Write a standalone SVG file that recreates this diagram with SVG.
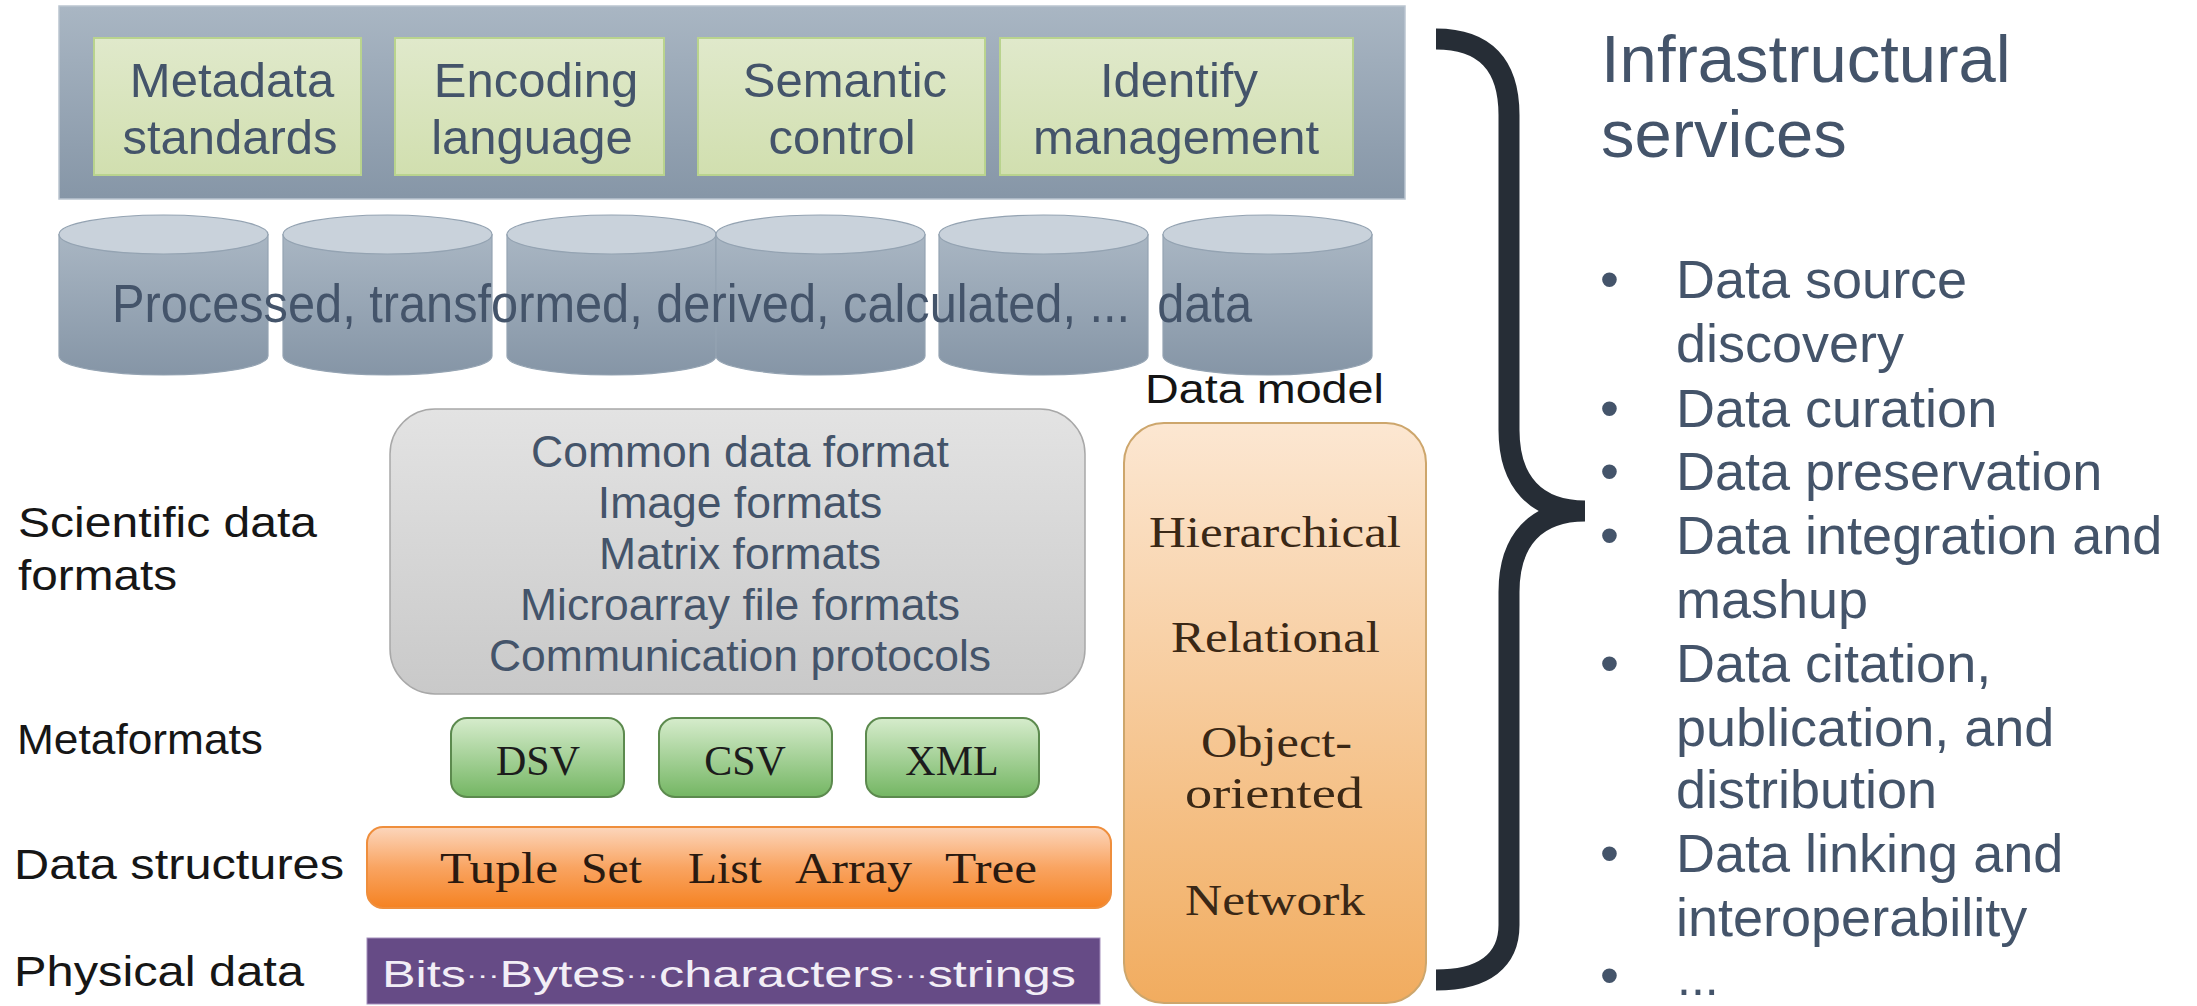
<svg xmlns="http://www.w3.org/2000/svg" width="2197" height="1006" viewBox="0 0 2197 1006">
  <style>
    .sans { font-family: 'Liberation Sans', Arial, sans-serif; }
    .serif { font-family: 'Liberation Serif', 'Times New Roman', serif; }
    .slate { fill: #44546A; }
    .lbl { fill: #161616; font-size: 42px; }
    .meta-txt { font-size: 49px; text-anchor: middle; }
    .fmt-txt { font-size: 44.5px; text-anchor: middle; }
    .svc { font-size: 54px; }
    .model-txt { fill: #3A2816; font-size: 44px; }
    .mf-txt { fill: #1C1C1C; font-size: 42px; text-anchor: middle; }
    .ds-txt { fill: #2A1A10; font-size: 44px; }
    .dots { font-size: 24px; }
  </style>
  <defs>
    <linearGradient id="bannerFill" x1="0" y1="6" x2="0" y2="199" gradientUnits="userSpaceOnUse">
      <stop offset="0" stop-color="#A9B6C3"/>
      <stop offset="1" stop-color="#8696A7"/>
    </linearGradient>
    <linearGradient id="metaFill" x1="0" y1="0" x2="0" y2="1">
      <stop offset="0" stop-color="#E0E9CB"/>
      <stop offset="1" stop-color="#D1DFAF"/>
    </linearGradient>
    <linearGradient id="cylBody" x1="0" y1="234" x2="0" y2="376" gradientUnits="userSpaceOnUse">
      <stop offset="0" stop-color="#A9B6C3"/>
      <stop offset="1" stop-color="#8595A6"/>
    </linearGradient>
    <linearGradient id="grayFill" x1="0" y1="0" x2="0" y2="1">
      <stop offset="0" stop-color="#E3E3E3"/>
      <stop offset="1" stop-color="#C9C9C9"/>
    </linearGradient>
    <linearGradient id="greenFill" x1="0" y1="0" x2="0" y2="1">
      <stop offset="0" stop-color="#D6ECCC"/>
      <stop offset="1" stop-color="#74B663"/>
    </linearGradient>
    <linearGradient id="orangeFill" x1="0" y1="0" x2="0" y2="1">
      <stop offset="0" stop-color="#FCD6BC"/>
      <stop offset="0.5" stop-color="#F9A461"/>
      <stop offset="1" stop-color="#F58222"/>
    </linearGradient>
    <linearGradient id="modelFill" x1="0" y1="0" x2="0" y2="1">
      <stop offset="0" stop-color="#FCE7D2"/>
      <stop offset="1" stop-color="#F1AC5F"/>
    </linearGradient>
    <!-- one database cylinder, placed with <use x=...> -->
    <g id="cyl">
      <path d="M0,234.5 L0,356 A104.5,19 0 0 0 209,356 L209,234.5 Z" fill="url(#cylBody)" stroke="#94A3B2" stroke-width="1.2"/>
      <ellipse cx="104.5" cy="234.5" rx="104.5" ry="19.5" fill="#C9D2DB" stroke="#94A3B2" stroke-width="1.2"/>
    </g>
  </defs>

  <rect width="2197" height="1006" fill="#FFFFFF"/>

  <!-- standards banner -->
  <g id="banner">
    <rect x="59" y="6" width="1346" height="193" fill="url(#bannerFill)" stroke="#BAC5D0" stroke-width="1.5"/>
  </g>
  <g id="metadata-standards">
    <rect x="94" y="38" width="267" height="137" fill="url(#metaFill)" stroke="#B9D38E" stroke-width="2"/>
    <text class="sans slate meta-txt" x="232" y="97">Metadata</text>
    <text class="sans slate meta-txt" x="230" y="154">standards</text>
  </g>
  <g id="encoding-language">
    <rect x="395" y="38" width="269" height="137" fill="url(#metaFill)" stroke="#B9D38E" stroke-width="2"/>
    <text class="sans slate meta-txt" x="536" y="97">Encoding</text>
    <text class="sans slate meta-txt" x="532" y="154">language</text>
  </g>
  <g id="semantic-control">
    <rect x="698" y="38" width="287" height="137" fill="url(#metaFill)" stroke="#B9D38E" stroke-width="2"/>
    <text class="sans slate meta-txt" x="845" y="97">Semantic</text>
    <text class="sans slate meta-txt" x="842" y="154">control</text>
  </g>
  <g id="identify-management">
    <rect x="1000" y="38" width="353" height="137" fill="url(#metaFill)" stroke="#B9D38E" stroke-width="2"/>
    <text class="sans slate meta-txt" x="1179" y="97">Identify</text>
    <text class="sans slate meta-txt" x="1176" y="154">management</text>
  </g>

  <!-- processed data stores -->
  <g id="processed-data">
    <use href="#cyl" x="59"/>
    <use href="#cyl" x="283"/>
    <use href="#cyl" x="507"/>
    <use href="#cyl" x="716"/>
    <use href="#cyl" x="939"/>
    <use href="#cyl" x="1163"/>
    <text class="sans slate" x="112" y="322" font-size="53" textLength="1140" lengthAdjust="spacingAndGlyphs" xml:space="preserve">Processed, transformed, derived, calculated, ...  data</text>
  </g>

  <!-- layer labels -->
  <g id="layer-labels">
    <text class="sans lbl" x="18" y="537" textLength="299" lengthAdjust="spacingAndGlyphs">Scientific data</text>
    <text class="sans lbl" x="18" y="590" textLength="159" lengthAdjust="spacingAndGlyphs">formats</text>
    <text class="sans lbl" x="17" y="754" textLength="246" lengthAdjust="spacingAndGlyphs">Metaformats</text>
    <text class="sans lbl" x="14" y="879" textLength="330" lengthAdjust="spacingAndGlyphs">Data structures</text>
    <text class="sans lbl" x="14" y="986" textLength="290" lengthAdjust="spacingAndGlyphs">Physical data</text>
  </g>

  <!-- scientific data formats -->
  <g id="scientific-formats">
    <rect x="390" y="409" width="695" height="285" rx="45" ry="45" fill="url(#grayFill)" stroke="#A8A8A8" stroke-width="1.5"/>
    <text class="sans slate fmt-txt" x="740" y="467">Common data format</text>
    <text class="sans slate fmt-txt" x="740" y="518">Image formats</text>
    <text class="sans slate fmt-txt" x="740" y="569">Matrix formats</text>
    <text class="sans slate fmt-txt" x="740" y="620">Microarray file formats</text>
    <text class="sans slate fmt-txt" x="740" y="671">Communication protocols</text>
  </g>

  <!-- metaformats -->
  <g id="dsv">
    <rect x="451" y="718" width="173" height="79" rx="16" ry="16" fill="url(#greenFill)" stroke="#5C8A4E" stroke-width="2"/>
    <text class="serif mf-txt" x="538" y="775">DSV</text>
  </g>
  <g id="csv">
    <rect x="659" y="718" width="173" height="79" rx="16" ry="16" fill="url(#greenFill)" stroke="#5C8A4E" stroke-width="2"/>
    <text class="serif mf-txt" x="745" y="775">CSV</text>
  </g>
  <g id="xml">
    <rect x="866" y="718" width="173" height="79" rx="16" ry="16" fill="url(#greenFill)" stroke="#5C8A4E" stroke-width="2"/>
    <text class="serif mf-txt" x="952" y="775">XML</text>
  </g>

  <!-- data structures -->
  <g id="data-structures">
    <rect x="367" y="827" width="744" height="81" rx="16" ry="16" fill="url(#orangeFill)" stroke="#EF8E3C" stroke-width="2"/>
    <text class="serif ds-txt" x="440" y="883" textLength="118" lengthAdjust="spacingAndGlyphs">Tuple</text>
    <text class="serif ds-txt" x="581" y="883" textLength="61" lengthAdjust="spacingAndGlyphs">Set</text>
    <text class="serif ds-txt" x="688" y="883" textLength="74" lengthAdjust="spacingAndGlyphs">List</text>
    <text class="serif ds-txt" x="795" y="883" textLength="117" lengthAdjust="spacingAndGlyphs">Array</text>
    <text class="serif ds-txt" x="945" y="883" textLength="92" lengthAdjust="spacingAndGlyphs">Tree</text>
  </g>

  <!-- physical data -->
  <g id="physical-data">
    <rect x="367" y="938" width="733" height="66" fill="#664B86" stroke="#A48FBC" stroke-width="1"/>
    <text class="sans" x="382" y="987" font-size="36" fill="#F2EEF6" textLength="694" lengthAdjust="spacingAndGlyphs">Bits<tspan class="dots" dy="-4">···</tspan><tspan dy="4">Bytes</tspan><tspan class="dots" dy="-4">···</tspan><tspan dy="4">characters</tspan><tspan class="dots" dy="-4">···</tspan><tspan dy="4">strings</tspan></text>
  </g>

  <!-- data model column -->
  <g id="data-model">
    <text class="sans" x="1145" y="403" font-size="40" fill="#141414" textLength="239" lengthAdjust="spacingAndGlyphs">Data model</text>
    <rect x="1124" y="423" width="302" height="580" rx="40" ry="40" fill="url(#modelFill)" stroke="#CDA66C" stroke-width="2"/>
    <text class="serif model-txt" x="1149" y="547" textLength="252" lengthAdjust="spacingAndGlyphs">Hierarchical</text>
    <text class="serif model-txt" x="1171" y="652" textLength="209" lengthAdjust="spacingAndGlyphs">Relational</text>
    <text class="serif model-txt" x="1201" y="757" textLength="151" lengthAdjust="spacingAndGlyphs">Object-</text>
    <text class="serif model-txt" x="1185" y="808" textLength="178" lengthAdjust="spacingAndGlyphs">oriented</text>
    <text class="serif model-txt" x="1185" y="915" textLength="180" lengthAdjust="spacingAndGlyphs">Network</text>
  </g>

  <!-- brace gathering the stack into the services -->
  <g id="connectors">
    <path d="M1436,39 C1485,39 1509,65 1509,115 L1509,430 C1509,482 1536,511 1585,511 M1585,511 C1536,511 1509,540 1509,592 L1509,925 C1509,960 1485,980 1436,980"
          fill="none" stroke="#262D36" stroke-width="21" stroke-linecap="butt"/>
  </g>

  <!-- infrastructural services -->
  <g id="services">
    <text class="sans slate" x="1601" y="82" font-size="67">Infrastructural</text>
    <text class="sans slate" x="1601" y="157" font-size="67">services</text>
    <g class="sans slate svc">
      <text x="1600" y="298">•</text>
      <text x="1676" y="298">Data source</text>
      <text x="1676" y="362">discovery</text>
      <text x="1600" y="427">•</text>
      <text x="1676" y="427">Data curation</text>
      <text x="1600" y="490">•</text>
      <text x="1676" y="490">Data preservation</text>
      <text x="1600" y="554">•</text>
      <text x="1676" y="554">Data integration and</text>
      <text x="1676" y="618">mashup</text>
      <text x="1600" y="682">•</text>
      <text x="1676" y="682">Data citation,</text>
      <text x="1676" y="746">publication, and</text>
      <text x="1676" y="808">distribution</text>
      <text x="1600" y="872">•</text>
      <text x="1676" y="872">Data linking and</text>
      <text x="1676" y="936">interoperability</text>
      <text x="1600" y="994">•</text>
      <text x="1677" y="995" font-size="50">...</text>
    </g>
  </g>
</svg>
